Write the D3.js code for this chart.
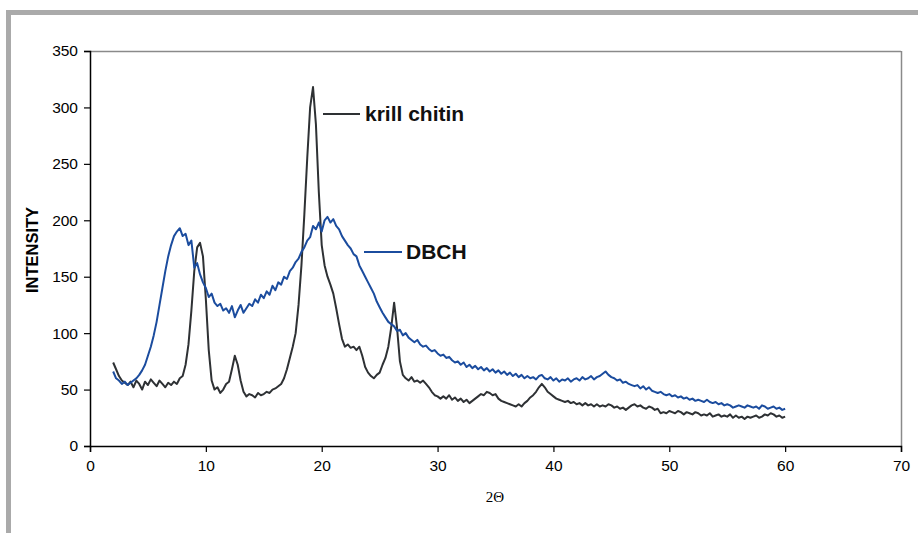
<!DOCTYPE html>
<html><head><meta charset="utf-8">
<script src="https://cdn.jsdelivr.net/npm/d3@7"></script>
<style>body{margin:0;background:#fff}svg{display:block}</style>
</head><body>
<svg id="chart" width="918" height="533"></svg>
<script>
// 2-theta sampling grid (degrees)
const angles = [
2,2.25,2.5,2.75,3,3.25,3.5,3.75,4,4.25,4.5,4.75,5,5.25,5.5,5.75,6,6.25,6.5,6.75,
7,7.25,7.5,7.75,8,8.25,8.5,8.75,9,9.25,9.5,9.75,10,10.25,10.5,10.75,11,11.25,11.5,11.75,
12,12.25,12.5,12.75,13,13.25,13.5,13.75,14,14.25,14.5,14.75,15,15.25,15.5,15.75,16,16.25,16.5,16.75,
17,17.25,17.5,17.75,18,18.25,18.5,18.75,19,19.25,19.5,19.75,20,20.25,20.5,20.75,21,21.25,21.5,21.75,
22,22.25,22.5,22.75,23,23.25,23.5,23.75,24,24.25,24.5,24.75,25,25.25,25.5,25.75,26,26.25,26.5,26.75,
27,27.25,27.5,27.75,28,28.25,28.5,28.75,29,29.25,29.5,29.75,30,30.25,30.5,30.75,31,31.25,31.5,31.75,
32,32.25,32.5,32.75,33,33.25,33.5,33.75,34,34.25,34.5,34.75,35,35.25,35.5,35.75,36,36.25,36.5,36.75,
37,37.25,37.5,37.75,38,38.25,38.5,38.75,39,39.25,39.5,39.75,40,40.25,40.5,40.75,41,41.25,41.5,41.75,
42,42.25,42.5,42.75,43,43.25,43.5,43.75,44,44.25,44.5,44.75,45,45.25,45.5,45.75,46,46.25,46.5,46.75,
47,47.25,47.5,47.75,48,48.25,48.5,48.75,49,49.25,49.5,49.75,50,50.25,50.5,50.75,51,51.25,51.5,51.75,
52,52.25,52.5,52.75,53,53.25,53.5,53.75,54,54.25,54.5,54.75,55,55.25,55.5,55.75,56,56.25,56.5,56.75,
57,57.25,57.5,57.75,58,58.25,58.5,58.75,59,59.25,59.5,59.75,60
];
const krillChitin = [
74,68,62,58,56,54,57,52,58,55,50,57,54,59,56,53,58,55,52,56,
54,57,55,60,62,72,90,120,155,176,180,168,130,85,58,50,52,47,50,55,
57,68,80,72,58,48,44,46,45,43,47,45,46,48,47,50,51,53,55,60,
68,78,88,100,125,160,205,255,300,318,285,225,178,160,150,143,135,122,108,95,
88,90,87,88,85,88,80,70,65,62,60,63,65,72,78,88,105,127,105,75,
63,60,58,61,57,58,56,58,55,52,48,45,44,42,44,42,45,41,43,40,
42,39,41,38,40,42,44,46,45,48,47,45,46,42,40,39,38,37,36,35,
37,35,38,40,43,45,48,52,55,52,48,46,44,42,41,40,39,40,38,39,
37,38,36,38,36,37,35,37,35,36,35,37,36,34,35,33,34,32,34,36,
37,35,36,34,33,35,34,32,33,29,30,29,31,30,29,31,30,28,30,29,
28,30,29,27,28,27,29,26,27,28,26,27,26,28,25,27,25,26,24,26,
25,26,27,25,26,28,27,29,28,26,27,25,26
];
const dbch = [
66,60,58,55,57,54,56,58,60,63,67,72,80,88,98,110,125,140,155,168,
178,186,190,193,186,188,178,182,158,162,152,145,140,132,135,127,124,126,120,122,
118,124,114,120,125,118,122,126,124,130,127,134,131,137,134,142,138,145,143,150,
148,155,158,163,166,172,176,182,185,195,192,198,190,200,203,198,201,195,192,186,
182,178,175,170,168,160,155,150,145,140,135,128,123,118,114,110,108,106,102,103,
98,100,96,94,92,94,90,88,89,86,84,85,82,80,81,78,79,76,74,75,
72,74,70,72,69,71,68,70,67,69,66,68,65,67,64,66,63,65,62,64,
61,63,60,62,60,61,59,62,63,60,59,61,58,60,57,59,58,60,57,59,
60,58,61,59,60,62,59,61,62,64,66,63,61,60,58,59,56,57,55,54,
53,54,51,53,50,52,49,48,47,48,46,45,46,44,45,43,44,42,43,41,
42,40,41,40,39,41,39,38,39,37,38,36,37,36,34,35,36,35,34,36,
35,34,35,33,36,35,33,34,35,33,34,32,33
];
const xTicks = [0,10,20,30,40,50,60,70];
const yTicks = [0,50,100,150,200,250,300,350];
const seriesNames = ["krill chitin","DBCH"];
const seriesColors = ["#2e3134","#1b4c9e"];

const svg = d3.select("#chart");
// outer gray frame
svg.append("rect").attr("x",8.5).attr("y",12.5).attr("width",1000).attr("height",1000)
  .attr("fill","none").attr("stroke","#aaaaaa").attr("stroke-width",5);

const L=90,R=901,T=51,B=446;
const x = d3.scaleLinear().domain([0,70]).range([L,R]);
const y = d3.scaleLinear().domain([0,350]).range([B,T]);

// plot frame (top/right gray)
svg.append("line").attr("x1",L).attr("x2",R).attr("y1",T+0.5).attr("y2",T+0.5).attr("stroke","#8a8a8a").attr("stroke-width",1.5);
svg.append("line").attr("x1",R+0.5).attr("x2",R+0.5).attr("y1",T).attr("y2",B).attr("stroke","#8a8a8a").attr("stroke-width",1.5);

const font = "Liberation Sans, Arial, sans-serif";
const gx = svg.append("g").attr("transform",`translate(0,${B})`)
  .call(d3.axisBottom(x).tickValues(xTicks).tickSize(6).tickPadding(8));
const gy = svg.append("g").attr("transform",`translate(${L},0)`)
  .call(d3.axisLeft(y).tickValues(yTicks).tickSize(6).tickPadding(6));
[gx,gy].forEach(g=>{
  g.selectAll("path").attr("stroke","#000").attr("stroke-width",1.5);
  g.selectAll("line").attr("stroke","#000").attr("stroke-width",1.2);
  g.selectAll("text").attr("font-family",font).attr("font-size",15.5).attr("fill","#000");
});

const line = d3.line().x((d,i)=>x(angles[i])).y(d=>y(d));
[krillChitin, dbch].forEach((s,k)=>{
  svg.append("path").datum(s).attr("d",line).attr("fill","none")
    .attr("stroke",seriesColors[k]).attr("stroke-width",2).attr("stroke-linejoin","round");
});

// labels
svg.append("text").attr("transform","translate(38,250) rotate(-90)").attr("text-anchor","middle")
  .attr("font-family",font).attr("font-weight","bold").attr("font-size",16.5).text("INTENSITY");
svg.append("text").attr("x",495).attr("y",502).attr("text-anchor","middle")
  .attr("font-family","Liberation Serif, Times New Roman, serif").attr("font-size",15).text("2Θ");

// inline legends
const leg = [{x1:323,x2:360,y:114,tx:365},{x1:364,x2:402,y:252,tx:406}];
leg.forEach((l,k)=>{
  svg.append("line").attr("x1",l.x1).attr("x2",l.x2).attr("y1",l.y).attr("y2",l.y)
    .attr("stroke",seriesColors[k]).attr("stroke-width",2);
  svg.append("text").attr("x",l.tx).attr("y",l.y+7).attr("font-family",font)
    .attr("font-weight","bold").attr("font-size",21).attr("fill","#111").text(seriesNames[k]);
});
</script>
</body></html>
